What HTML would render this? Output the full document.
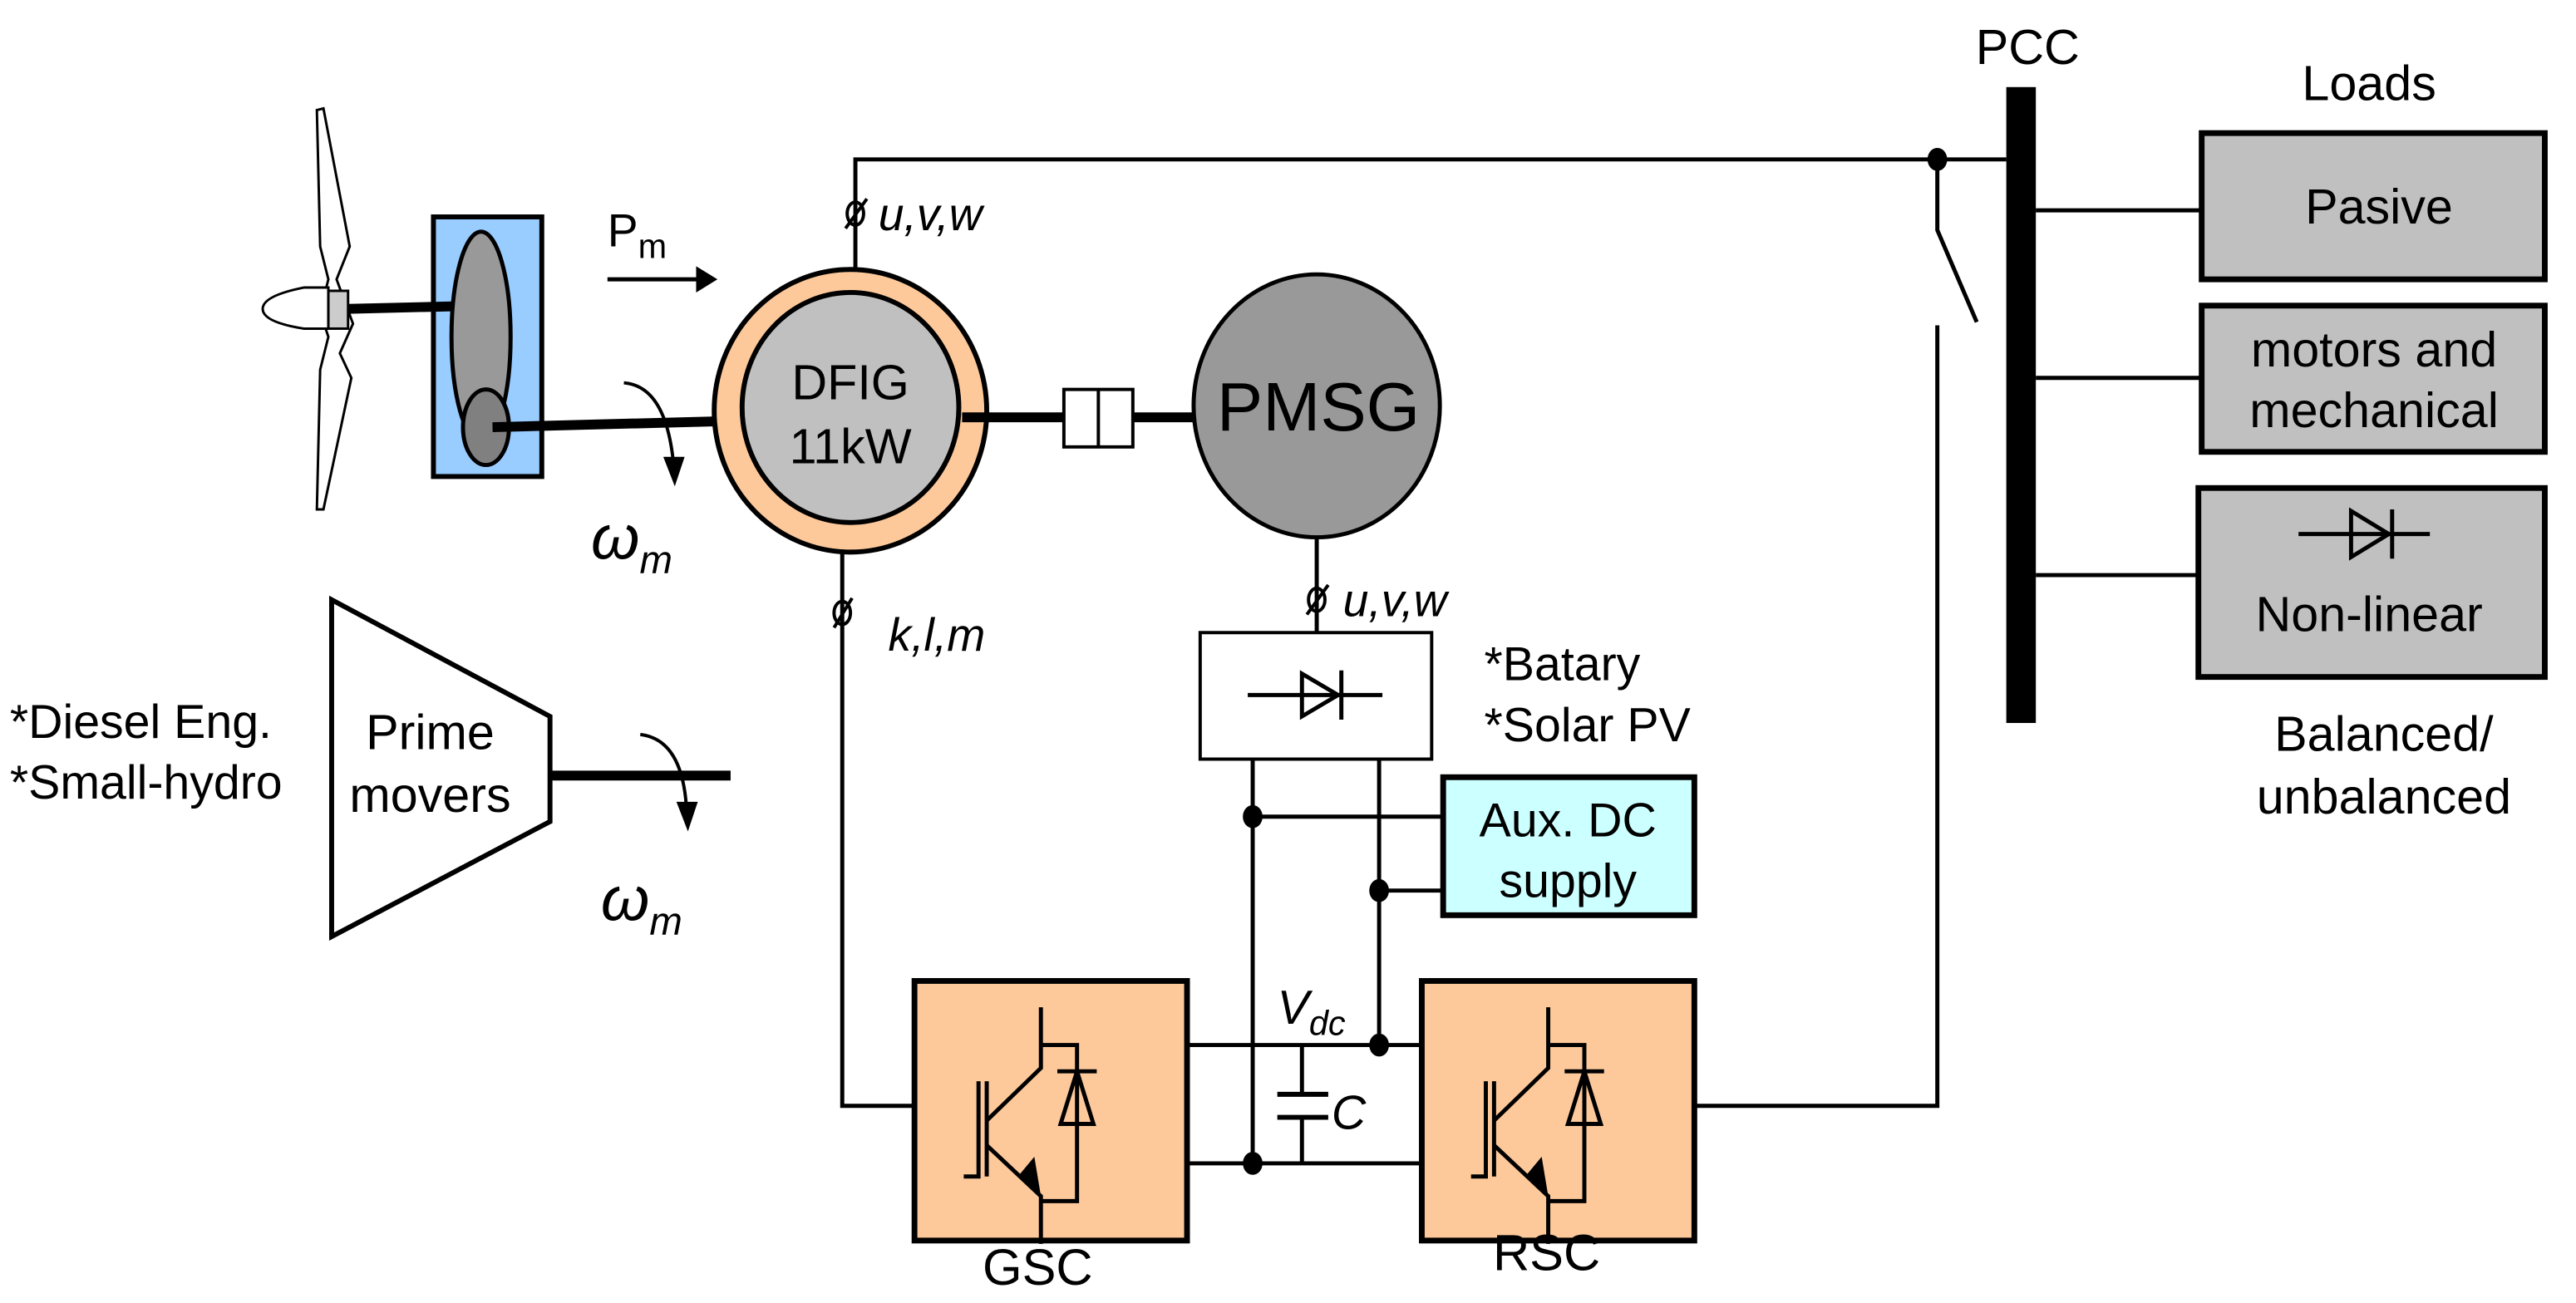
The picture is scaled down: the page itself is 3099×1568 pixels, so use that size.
<!DOCTYPE html>
<html><head><meta charset="utf-8"><style>
html,body{margin:0;padding:0;background:#fff;}
svg{display:block;}
text{font-family:"Liberation Sans",sans-serif;fill:#000;}
</style></head><body>
<svg width="3099" height="1568" viewBox="0 0 1569 793" preserveAspectRatio="none" xmlns="http://www.w3.org/2000/svg">
<g stroke="#000" fill="none" stroke-width="2.5">
<polyline points="521,164 521,97 1222,97"/>
<polyline points="1180,97 1180,140 1204,196"/>
<polyline points="1180,198 1180,673 1025,673"/>
<line x1="1240" y1="128" x2="1340" y2="128"/>
<line x1="1240" y1="230" x2="1340" y2="230"/>
<line x1="1240" y1="350" x2="1340" y2="350"/>
<polyline points="513,318 513,673 557,673"/>
<line x1="802" y1="325" x2="802" y2="385"/>
<line x1="763" y1="462" x2="763" y2="708"/>
<line x1="840" y1="462" x2="840" y2="636"/>
<line x1="763" y1="497" x2="878" y2="497"/>
<line x1="840" y1="542" x2="878" y2="542"/>
<line x1="723" y1="636" x2="866" y2="636"/>
<line x1="723" y1="708" x2="866" y2="708"/>
<line x1="793" y1="636" x2="793" y2="666"/>
<line x1="793" y1="680" x2="793" y2="708"/>
<line x1="778" y1="666" x2="809" y2="666" stroke-width="3"/>
<line x1="778" y1="680" x2="809" y2="680" stroke-width="3"/>
</g>
<g fill="#000">
<ellipse cx="1180" cy="97" rx="6" ry="7"/>
<ellipse cx="763" cy="497" rx="6" ry="7"/>
<ellipse cx="840" cy="542" rx="6" ry="7"/>
<ellipse cx="840" cy="636" rx="6" ry="7"/>
<ellipse cx="763" cy="708" rx="6" ry="7"/>
</g>
<rect x="1222" y="53" width="18" height="387" fill="#000"/>
<text x="1235" y="39" font-size="30" text-anchor="middle">PCC</text>
<text x="1443" y="61" font-size="30" text-anchor="middle">Loads</text>
<g fill="#c0c0c0" stroke="#000" stroke-width="3.5">
<rect x="1341" y="81" width="209" height="89"/>
<rect x="1341" y="186" width="209" height="89"/>
<rect x="1339" y="297" width="211" height="115"/>
</g>
<text x="1449" y="136" font-size="30" text-anchor="middle">Pasive</text>
<text x="1446" y="223" font-size="30" text-anchor="middle">motors and</text>
<text x="1446" y="260" font-size="30" text-anchor="middle">mechanical</text>
<text x="1443" y="384" font-size="30" text-anchor="middle">Non-linear</text>
<g stroke="#000" stroke-width="2.5" fill="none">
<line x1="1400" y1="325" x2="1480" y2="325"/>
<polygon points="1432,311 1432,339 1455,325"/>
<line x1="1457" y1="310" x2="1457" y2="340"/>
</g>
<text x="1452" y="457" font-size="30" text-anchor="middle">Balanced/</text>
<text x="1452" y="495" font-size="30" text-anchor="middle">unbalanced</text>

<path d="M193,67 L197,66 L213,150 L205,170 L215,197 L207,215 L214,230 L197,310 L193,310 L195,225 L200,205 L195,190 L200,170 L195,150 Z" fill="#fff" stroke="#000" stroke-width="1.5"/>
<path d="M200,175 L185,175 Q160,180 160,188 Q160,196 185,200 L200,200 Z" fill="#fff" stroke="#000" stroke-width="1.5"/>
<rect x="200" y="177" width="12" height="23" fill="#ccc" stroke="#000" stroke-width="1.5"/>
<rect x="264" y="132" width="66" height="158" fill="#99ccff" stroke="#000" stroke-width="3"/>
<line x1="212" y1="188" x2="293" y2="186" stroke="#000" stroke-width="6"/>
<ellipse cx="293" cy="205" rx="18" ry="64" fill="#999" stroke="#000" stroke-width="2.5"/>
<ellipse cx="296" cy="260" rx="14" ry="23" fill="#808080" stroke="#000" stroke-width="2.5"/>
<line x1="300" y1="260" x2="452" y2="256" stroke="#000" stroke-width="6"/>
<text x="370" y="150" font-size="28">P<tspan font-size="21" dy="7">m</tspan></text>
<line x1="370" y1="170" x2="428" y2="170" stroke="#000" stroke-width="2.5"/>
<polygon points="437,170 424,162 424,178" fill="#000"/>
<path d="M380,233 Q405,235 410,280" stroke="#000" stroke-width="2" fill="none"/>
<polygon points="411,296 404,278 417,278" fill="#000"/>
<text x="360" y="340" font-size="38" font-style="italic" font-family="Liberation Serif">ω<tspan font-size="24" dy="9">m</tspan></text>
<ellipse cx="518" cy="250" rx="83" ry="86" fill="#fdc99b" stroke="#000" stroke-width="3"/>
<ellipse cx="518" cy="248" rx="66" ry="70" fill="#c0c0c0" stroke="#000" stroke-width="3"/>
<text x="518" y="243" font-size="30" text-anchor="middle">DFIG</text>
<text x="518" y="282" font-size="30" text-anchor="middle">11kW</text>
<line x1="586" y1="254" x2="727" y2="254" stroke="#000" stroke-width="6"/>
<rect x="648" y="237" width="42" height="35" fill="#fff" stroke="#000" stroke-width="2"/>
<line x1="669" y1="237" x2="669" y2="272" stroke="#000" stroke-width="2"/>
<ellipse cx="802" cy="247" rx="75" ry="80" fill="#999" stroke="#000" stroke-width="2.5"/>
<text x="803" y="262" font-size="42" text-anchor="middle">PMSG</text>
<g stroke="#000" stroke-width="2" fill="none">
<ellipse cx="521" cy="130" rx="5" ry="7"/><line x1="515" y1="139" x2="528" y2="121"/>
<ellipse cx="513" cy="373" rx="5" ry="7"/><line x1="508" y1="382" x2="519" y2="364"/>
<ellipse cx="802" cy="365" rx="5" ry="7"/><line x1="796" y1="374" x2="809" y2="356"/>
</g>
<text x="535" y="140" font-size="28" font-style="italic">u,v,w</text>
<text x="541" y="396" font-size="28" font-style="italic">k,l,m</text>
<text x="818" y="375" font-size="28" font-style="italic">u,v,w</text>
<rect x="731" y="385" width="141" height="77" fill="#fff" stroke="#000" stroke-width="2"/>
<g stroke="#000" stroke-width="2.5" fill="none">
<line x1="760" y1="423" x2="842" y2="423"/>
<polygon points="793,410 793,436 815,423"/>
<line x1="817" y1="408" x2="817" y2="438"/>
</g>
<text x="904" y="414" font-size="29">*Batary</text>
<text x="904" y="451" font-size="29">*Solar PV</text>
<rect x="879" y="473" width="153" height="84" fill="#ccffff" stroke="#000" stroke-width="3.5"/>
<text x="955" y="509" font-size="29" text-anchor="middle">Aux. DC</text>
<text x="955" y="546" font-size="29" text-anchor="middle">supply</text>
<polygon points="202,365 335,436 335,500 202,570" fill="#fff" stroke="#000" stroke-width="3"/>
<text x="262" y="456" font-size="30" text-anchor="middle">Prime</text>
<text x="262" y="494" font-size="30" text-anchor="middle">movers</text>
<text x="6" y="449" font-size="29">*Diesel Eng.</text>
<text x="6" y="486" font-size="29">*Small-hydro</text>
<line x1="335" y1="472" x2="445" y2="472" stroke="#000" stroke-width="6"/>
<path d="M390,447 Q415,450 418,490" stroke="#000" stroke-width="2" fill="none"/>
<polygon points="419,506 412,488 425,488" fill="#000"/>
<text x="366" y="560" font-size="38" font-style="italic" font-family="Liberation Serif">ω<tspan font-size="24" dy="9">m</tspan></text>
<g id="conv">
<rect x="557" y="597" width="166" height="158" fill="#fdc99b" stroke="#000" stroke-width="3.5"/>
<g stroke="#000" stroke-width="2.5" fill="none">
<polyline points="587,716 596,716 596,658"/>
<line x1="601" y1="658" x2="601" y2="716"/>
<polyline points="601,682 634,650 634,613"/>
<polyline points="601,697 634,728 634,757"/>
<polyline points="634,636 656,636 656,731 634,731"/>
<polygon points="656,652 646,684 666,684"/>
<line x1="644" y1="652" x2="668" y2="652"/>
</g>
<polygon points="634,728 620,716 630,704" fill="#000"/>
</g>
<use href="#conv" transform="translate(309,0)"/>
<text x="632" y="782" font-size="31" text-anchor="middle">GSC</text>
<text x="942" y="773" font-size="31" text-anchor="middle">RSC</text>
<text x="778" y="623" font-size="29" font-style="italic">V<tspan font-size="21" dy="7">dc</tspan></text>
<text x="811" y="687" font-size="29" font-style="italic">C</text>
</svg>
</body></html>
